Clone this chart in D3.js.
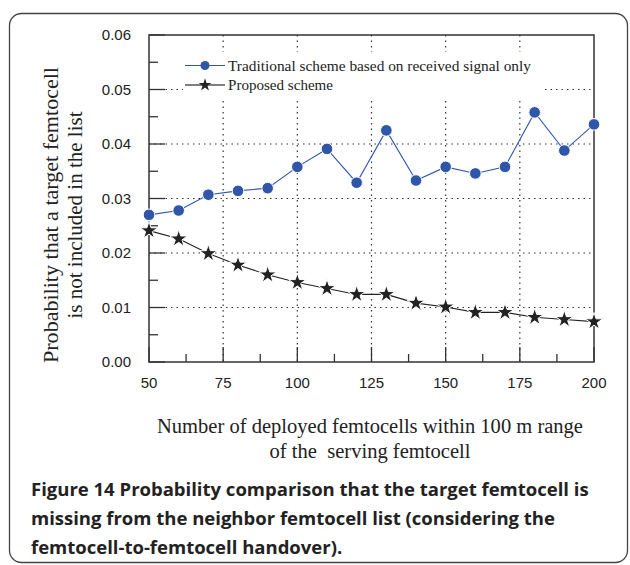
<!DOCTYPE html>
<html><head><meta charset="utf-8">
<script src="https://cdn.jsdelivr.net/npm/d3@7"></script>
<style>html,body{margin:0;padding:0;background:#fff;}svg{display:block;}</style>
</head><body>
<script>
const xValues = [50,60,70,80,90,100,110,120,130,140,150,160,170,180,190,200];
const traditional = [0.0270,0.0278,0.0307,0.0314,0.0319,0.0358,0.0391,0.0329,0.0425,0.0333,0.0358,0.0346,0.0358,0.0458,0.0388,0.0436];
const proposed = [0.0241,0.0226,0.0199,0.0178,0.0160,0.0146,0.0135,0.0124,0.0124,0.0108,0.0101,0.0091,0.0091,0.0082,0.0078,0.0074];
const seriesNames = ["Traditional scheme based on received signal only","Proposed scheme"];
const xTicks = [50,75,100,125,150,175,200];
const yTicks = [0,0.01,0.02,0.03,0.04,0.05,0.06];
const yLabelLines = ["Probability that a target femtocell","is not included in the list"];
const xLabelLines = ["Number of deployed femtocells within 100 m range","of the  serving femtocell"];
const captionLines = ["Probability comparison that the target femtocell is","missing from the neighbor femtocell list (considering the","femtocell-to-femtocell handover)."];

const W=630,H=565;
const svg=d3.select("body").append("svg").attr("width",W).attr("height",H);
const L=149,R=594,T=35,B=362;
const x=d3.scaleLinear().domain([50,200]).range([L,R]);
const y=d3.scaleLinear().domain([0,0.06]).range([B,T]);
const axisCol="#333";
const blue="#2f56a9";

// frame
svg.append("rect").attr("x",9.5).attr("y",13.5).attr("width",618).attr("height",549).attr("rx",12)
  .attr("fill","none").attr("stroke","#444").attr("stroke-width",1.3);

// grid
const g=svg.append("g");
g.selectAll(".vg").data([75,100,125,150,175]).join("line")
  .attr("x1",d=>x(d)).attr("x2",d=>x(d)).attr("y1",T).attr("y2",B)
  .attr("stroke",axisCol).attr("stroke-width",1.2).attr("stroke-dasharray","1.5,4");
g.selectAll(".hg").data([0.01,0.02,0.03,0.04,0.05]).join("line")
  .attr("x1",L).attr("x2",R).attr("y1",d=>y(d)).attr("y2",d=>y(d))
  .attr("stroke",axisCol).attr("stroke-width",1.2).attr("stroke-dasharray","1.5,4");

// legend background
svg.append("rect").attr("x",183).attr("y",52).attr("width",360).attr("height",48).attr("fill","#fff");

// axes ticks (inward)
const yMinor=d3.range(0,0.0601,0.005);
svg.append("g").selectAll("line").data(yMinor).join("line")
  .attr("x1",L).attr("x2",(d,i)=>L+(i%2===0?16:9)).attr("y1",d=>y(d)).attr("y2",d=>y(d))
  .attr("stroke",axisCol).attr("stroke-width",1.3);
const xMinor=d3.range(50,200.1,12.5);
svg.append("g").selectAll("line").data(xMinor).join("line")
  .attr("x1",d=>x(d)).attr("x2",d=>x(d)).attr("y1",B).attr("y2",(d,i)=>B-(i%2===0?15:8))
  .attr("stroke",axisCol).attr("stroke-width",1.3);

// plot box
svg.append("rect").attr("x",L).attr("y",T).attr("width",R-L).attr("height",B-T)
  .attr("fill","none").attr("stroke",axisCol).attr("stroke-width",1.5);

// tick labels
svg.append("g").selectAll("text").data(yTicks).join("text")
  .attr("x",131).attr("y",d=>y(d)).attr("dy","0.35em").attr("text-anchor","end")
  .attr("font-family","Liberation Sans, Arial, sans-serif").attr("font-size",15).attr("fill","#222")
  .text(d3.format(".2f"));
svg.append("g").selectAll("text").data(xTicks).join("text")
  .attr("x",d=>x(d)).attr("y",383).attr("dy","0.35em").attr("text-anchor","middle")
  .attr("font-family","Liberation Sans, Arial, sans-serif").attr("font-size",15).attr("fill","#222")
  .text(d=>d);

// lines
const line=d3.line().x((d,i)=>x(xValues[i])).y(d=>y(d));
svg.append("path").datum(traditional).attr("d",line).attr("fill","none").attr("stroke",blue).attr("stroke-width",1.1);
svg.append("path").datum(proposed).attr("d",line).attr("fill","none").attr("stroke","#222").attr("stroke-width",1.1);

const star=d3.symbol().type(d3.symbolStar).size(95);
svg.append("g").selectAll("path").data(proposed).join("path")
  .attr("transform",(d,i)=>`translate(${x(xValues[i])},${y(d)})`).attr("d",star)
  .attr("fill","#222").attr("stroke","#fff").attr("stroke-width",1);
svg.append("g").selectAll("circle").data(traditional).join("circle")
  .attr("cx",(d,i)=>x(xValues[i])).attr("cy",d=>y(d)).attr("r",5.8)
  .attr("fill",blue).attr("stroke","#fff").attr("stroke-width",1);

// legend
const leg=svg.append("g");
const legY=[65.5,85];
leg.append("line").attr("x1",185).attr("x2",225).attr("y1",legY[0]).attr("y2",legY[0]).attr("stroke",blue).attr("stroke-width",1.1);
leg.append("circle").attr("cx",205).attr("cy",legY[0]).attr("r",4.5).attr("fill",blue);
leg.append("line").attr("x1",185).attr("x2",225).attr("y1",legY[1]).attr("y2",legY[1]).attr("stroke","#555").attr("stroke-width",1.3);
leg.append("path").attr("transform",`translate(205,${legY[1]})`).attr("d",d3.symbol().type(d3.symbolStar).size(50)).attr("fill","#222");
const legLens=[303,105];
leg.selectAll("text").data(seriesNames).join("text")
  .attr("x",228).attr("y",(d,i)=>legY[i]).attr("dy","0.33em")
  .attr("font-family","Liberation Serif, Times New Roman, serif").attr("font-size",15.2).attr("fill","#222")
  .attr("textLength",(d,i)=>legLens[i]).attr("lengthAdjust","spacingAndGlyphs")
  .text(d=>d);

// axis titles
const serif="Liberation Serif, Times New Roman, serif";
const yLens=[296,207];
yLabelLines.forEach((t,i)=>{
  svg.append("text").attr("transform",`translate(${51+i*24},215) rotate(-90)`)
    .attr("text-anchor","middle").attr("dy","0.35em").attr("font-family",serif).attr("font-size",20).attr("fill","#222")
    .attr("textLength",yLens[i]).attr("lengthAdjust","spacingAndGlyphs").text(t);
});
const xLens=[426,201];
xLabelLines.forEach((t,i)=>{
  svg.append("text").attr("x",370).attr("y",426+i*25).attr("dy","0.35em")
    .attr("text-anchor","middle").attr("font-family",serif).attr("font-size",20).attr("fill","#222")
    .attr("textLength",xLens[i]).attr("lengthAdjust","spacingAndGlyphs")
    .attr("xml:space","preserve").style("white-space","pre").text(t);
});

// caption
const cap="Open Sans, Noto Sans, sans-serif";
captionLines.forEach((t,i)=>{
  const tx=svg.append("text").attr("x",31).attr("y",490+i*29).attr("dy","0.35em")
    .attr("font-family",cap).attr("font-size",18.5).attr("font-weight",700).attr("fill","#222");
  if(i===0){ tx.append("tspan").text("Figure 14 "); }
  tx.append("tspan").text(t);
});
</script>
</body></html>
